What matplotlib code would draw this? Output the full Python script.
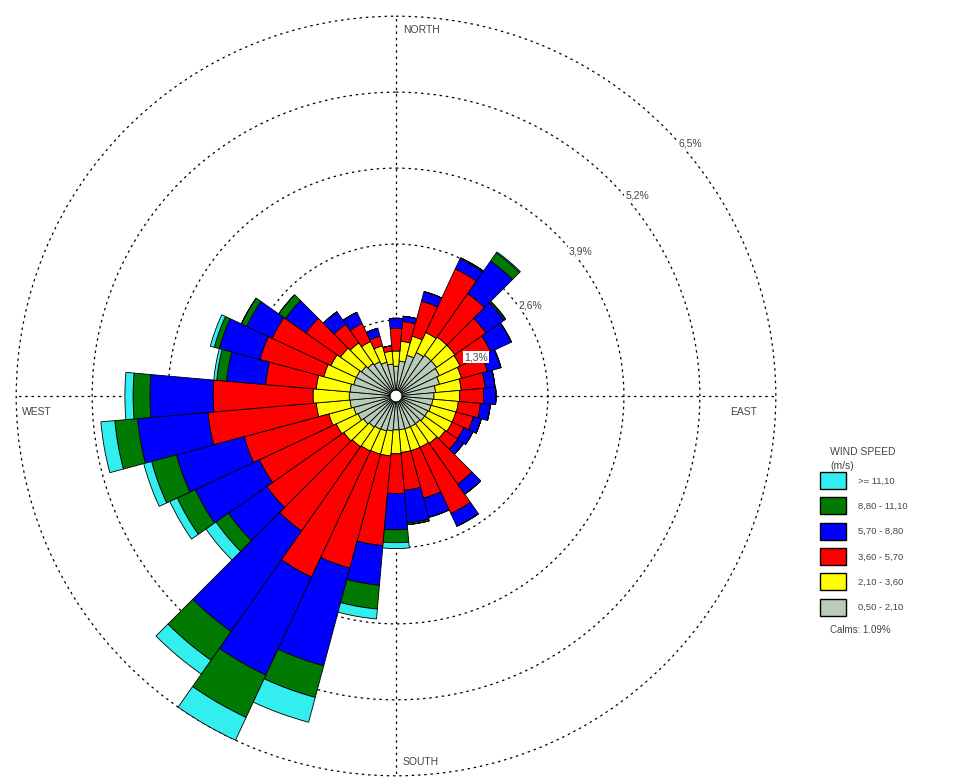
import numpy as np
import matplotlib
matplotlib.use("Agg")
import matplotlib.pyplot as plt
from matplotlib.patches import Patch

plt.rcParams['font.family'] = ['Liberation Sans', 'DejaVu Sans']

# wind directions (deg from north, clockwise), 36 sectors of 10 deg
directions = np.arange(0, 360, 10)

# frequency (%) per speed class for each direction
spd_050_210 = [0.51, 0.60, 0.72, 0.82, 0.85, 0.85, 0.82, 0.77, 0.68, 0.65, 0.63, 0.62,
               0.60, 0.60, 0.58, 0.58, 0.58, 0.58, 0.58, 0.60, 0.62, 0.63, 0.65, 0.68,
               0.72, 0.75, 0.79, 0.80, 0.79, 0.75, 0.75, 0.72, 0.68, 0.65, 0.60, 0.55]
spd_210_360 = [0.26, 0.34, 0.34, 0.38, 0.38, 0.38, 0.39, 0.39, 0.44, 0.44, 0.44, 0.44,
               0.46, 0.43, 0.41, 0.39, 0.39, 0.39, 0.41, 0.43, 0.41, 0.41, 0.41, 0.41,
               0.41, 0.44, 0.58, 0.62, 0.58, 0.53, 0.48, 0.44, 0.43, 0.38, 0.29, 0.22]
spd_360_570 = [0.39, 0.34, 0.62, 1.20, 0.91, 0.65, 0.58, 0.46, 0.41, 0.41, 0.38, 0.31,
               0.22, 0.26, 0.85, 1.25, 0.84, 0.65, 0.68, 1.54, 2.02, 2.38, 1.76, 1.61,
               1.45, 1.50, 1.86, 1.71, 0.87, 1.13, 1.11, 0.72, 0.39, 0.34, 0.17, 0.09]
spd_570_880 = [0.17, 0.09, 0.17, 0.19, 0.68, 0.38, 0.39, 0.24, 0.17, 0.21, 0.17, 0.14,
               0.17, 0.12, 0.21, 0.24, 0.34, 0.56, 0.62, 0.68, 1.73, 1.85, 2.10, 0.80,
               1.21, 1.20, 1.21, 1.08, 0.67, 0.72, 0.48, 0.43, 0.26, 0.21, 0.14, 0.00]
spd_880_1110 = [0.00, 0.00, 0.00, 0.02, 0.17, 0.03, 0.00, 0.00, 0.00, 0.00, 0.00, 0.00,
                0.00, 0.00, 0.00, 0.00, 0.00, 0.03, 0.22, 0.41, 0.56, 0.80, 0.60, 0.26,
                0.34, 0.44, 0.39, 0.29, 0.17, 0.09, 0.10, 0.14, 0.00, 0.00, 0.00, 0.00]
spd_1110_up = [0.00, 0.00, 0.00, 0.00, 0.02, 0.00, 0.00, 0.00, 0.00, 0.00, 0.00, 0.00,
               0.00, 0.00, 0.00, 0.00, 0.00, 0.00, 0.10, 0.17, 0.44, 0.43, 0.29, 0.21,
               0.14, 0.14, 0.24, 0.14, 0.05, 0.07, 0.00, 0.00, 0.00, 0.00, 0.00, 0.00]

classes = [spd_050_210, spd_210_360, spd_360_570, spd_570_880, spd_880_1110, spd_1110_up]
class_labels = ["0,50 - 2,10", "2,10 - 3,60", "3,60 - 5,70",
                "5,70 - 8,80", "8,80 - 11,10", ">= 11,10"]
colors = ["#b8ccb8", "#ffff00", "#ff0000", "#0000ff", "#007a00", "#33eeee"]

rings = [1.3, 2.6, 3.9, 5.2, 6.5]
ring_labels = ["1,3%", "2,6%", "3,9%", "5,2%", "6,5%"]
calms = "Calms: 1.09%"

fig = plt.figure(figsize=(9.68, 7.78), dpi=100)
ax = fig.add_axes([0.0155, 0.0013, 0.7872, 0.9794], projection="polar")
ax.set_theta_zero_location("N")
ax.set_theta_direction(-1)

theta = np.radians(directions)
width = np.radians(10)
bottom = np.zeros(len(directions))
for vals, col in zip(classes, colors):
    vals = np.array(vals)
    ax.bar(theta, vals, width=width, bottom=bottom, color=col,
           edgecolor="black", linewidth=0.6, zorder=3)
    bottom += vals

# calm circle in the middle
t = np.linspace(0, 2 * np.pi, 100)
ax.fill(t, np.full_like(t, 0.1), color="white", edgecolor="black", lw=0.6, zorder=5)

ax.set_ylim(0, 6.52)
ax.set_rgrids(rings, labels=[""] * len(rings))
ax.set_thetagrids([0, 90, 180, 270], labels=[""] * 4)
ax.grid(True, color="black", linestyle=(0, (2, 3)), linewidth=0.9)
ax.spines["polar"].set_visible(False)
for gl in ax.get_xgridlines() + ax.get_ygridlines():
    gl.set_zorder(1)

# ring labels
label_pos = [(476, 357), (530, 305), (581, 252), (637, 196), (690, 143)]
for (px, py), lab in zip(label_pos, ring_labels):
    fig.text(px / 968, 1 - py / 778, lab, fontsize=7.5, color="#444444",
             ha="center", va="center", zorder=10,
             bbox=dict(facecolor="white", edgecolor="none", pad=1))

# compass labels
fig.text(403 / 968, 1 - 30 / 778, "NORTH", fontsize=7.5, color="#444444", va="center")
fig.text(403 / 968, 1 - 762 / 778, "SOUTH", fontsize=7.5, color="#444444", va="center")
fig.text(22 / 968, 1 - 412 / 778, "WEST", fontsize=7.5, color="#444444", va="center")
fig.text(730 / 968, 1 - 412 / 778, "EAST", fontsize=7.5, color="#444444", va="center")

# legend
fig.text(830 / 968, 1 - 452 / 778, "WIND SPEED", fontsize=7.5, color="#444444", va="center")
fig.text(830 / 968, 1 - 466 / 778, "(m/s)", fontsize=7.5, color="#444444", va="center")
handles = [Patch(facecolor=c, edgecolor="black", linewidth=1.0) for c in colors[::-1]]
leg = fig.legend(handles, class_labels[::-1], loc="upper left",
                 bbox_to_anchor=(820 / 968, 1 - 472 / 778), frameon=False,
                 borderaxespad=0, borderpad=0,
                 fontsize=6.8, handlelength=2.8, handleheight=2.4,
                 labelspacing=0.88, handletextpad=1.2)
for txt in leg.get_texts():
    txt.set_color("#444444")
fig.text(830 / 968, 1 - 630 / 778, calms, fontsize=7, color="#444444", va="center")

fig.savefig("out.png", dpi=100)
